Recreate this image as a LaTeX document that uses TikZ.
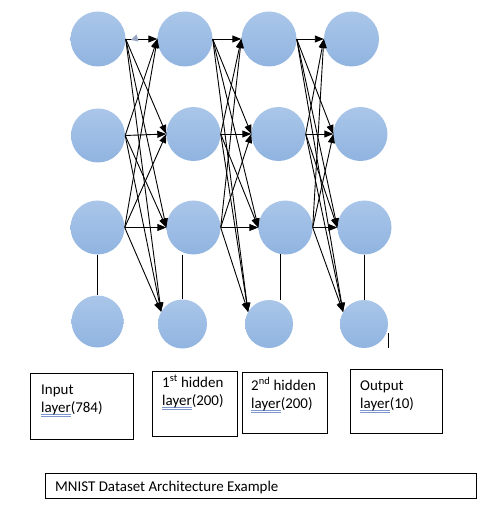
\documentclass[tikz,border=0pt]{standalone}
\usepackage{fontspec}
\setmainfont{Carlito}
\usetikzlibrary{arrows.meta}
\definecolor{nodetop}{RGB}{170,198,233}
\definecolor{nodebot}{RGB}{144,180,224}
\definecolor{spellblue}{RGB}{125,150,205}
\definecolor{tipgray}{RGB}{150,165,192}
\newcommand{\spellmark}[1]{\setbox0=\hbox{#1}\rlap{\color{spellblue}\rule[-2.6bp]{\wd0}{0.6bp}}\rlap{\color{spellblue}\rule[-4.4bp]{\wd0}{0.6bp}}\box0}
\tikzset{
neuron/.style={circle, inner sep=0pt, draw=none, top color=nodetop, bottom color=nodebot},
link/.style={-{Triangle[length=9bp,width=7bp]}, line width=0.9bp},
plain/.style={line width=0.9bp},
labelbox/.style={draw, line width=0.8bp, inner sep=0pt, anchor=north west},
labeltext/.style={anchor=base west, align=left, inner sep=0pt, font=\fontsize{15}{18}\selectfont}
}
\begin{document}
\begin{tikzpicture}[x=1bp, y=-1bp]
\useasboundingbox (0,0) rectangle (502,530);
% input layer
\node[neuron, minimum size=55bp] (a1) at (98,39) {};
\node[neuron, minimum size=54bp] (a2) at (98,135.5) {};
\node[neuron, minimum size=54bp] (a3) at (97.5,227.5) {};
\node[neuron, minimum size=52bp] (a4) at (97.5,321.5) {};
% 1st hidden layer
\node[neuron, minimum size=55bp] (b1) at (185,39) {};
\node[neuron, minimum size=54bp] (b2) at (193.5,134) {};
\node[neuron, minimum size=54bp] (b3) at (193.5,227.5) {};
\node[neuron, minimum size=49bp] (b4) at (182.5,324) {};
% 2nd hidden layer
\node[neuron, minimum size=55bp] (c1) at (269,39) {};
\node[neuron, minimum size=54bp] (c2) at (278.5,134) {};
\node[neuron, minimum size=54bp] (c3) at (285.5,227.5) {};
\node[neuron, minimum size=48bp] (c4) at (269,324) {};
% output layer
\node[neuron, minimum size=55bp] (d1) at (351.5,39) {};
\node[neuron, minimum size=54bp] (d2) at (360.5,134) {};
\node[neuron, minimum size=54bp] (d3) at (364.5,227.5) {};
\node[neuron, minimum size=48bp] (d4) at (364,324) {};

\foreach \s/\t in {a/b,b/c,c/d}{
  \foreach \i in {1,2,3}{
    \foreach \j in {1,2,3}
      \draw[link] (\s\i.east) -- (\t\j.west);
    \draw[link] (\s\i.east) -- (\t4.150);
  }
}
\fill[tipgray] (131,40) -- (136.5,34.5) -- (138.5,41.5) -- cycle;

\draw[plain] (a3) -- (a4);
\draw[plain] (b4.north |- b3.south) -- (b4.north);
\draw[plain] (c3.260) -- (c3.260 |- c4.north);
\draw[plain] (d3.south) -- (d3.south |- d4.north);
\draw[plain] (d4.east) ++(0,9) -- ++(0,15);

% layer labels
\node[labelbox, minimum width=103bp, minimum height=66bp] (inbox) at (30,373) {};
\node[labeltext] (intext) at (41,412) {Input\\\spellmark{layer}(784)};
\node[labelbox, minimum width=85bp, minimum height=65bp] (hidbox1) at (152,371) {};
\node[labeltext] (hidtext1) at (162,405) {1\textsuperscript{st} hidden\\\spellmark{layer}(200)};
\node[labelbox, minimum width=85bp, minimum height=61bp] (hidbox2) at (242,372) {};
\node[labeltext] (hidtext2) at (251,408) {2\textsuperscript{nd} hidden\\\spellmark{layer}(200)};
\node[labelbox, minimum width=92bp, minimum height=64bp] (outbox) at (350,369) {};
\node[labeltext] (outtext) at (360,408) {Output\\\spellmark{layer}(10)};

\node[labelbox, minimum width=431bp, minimum height=25bp] (titlebox) at (45,473) {};
\node[labeltext] (titletext) at (55,491) {MNIST Dataset Architecture Example};
\end{tikzpicture}
\end{document}
